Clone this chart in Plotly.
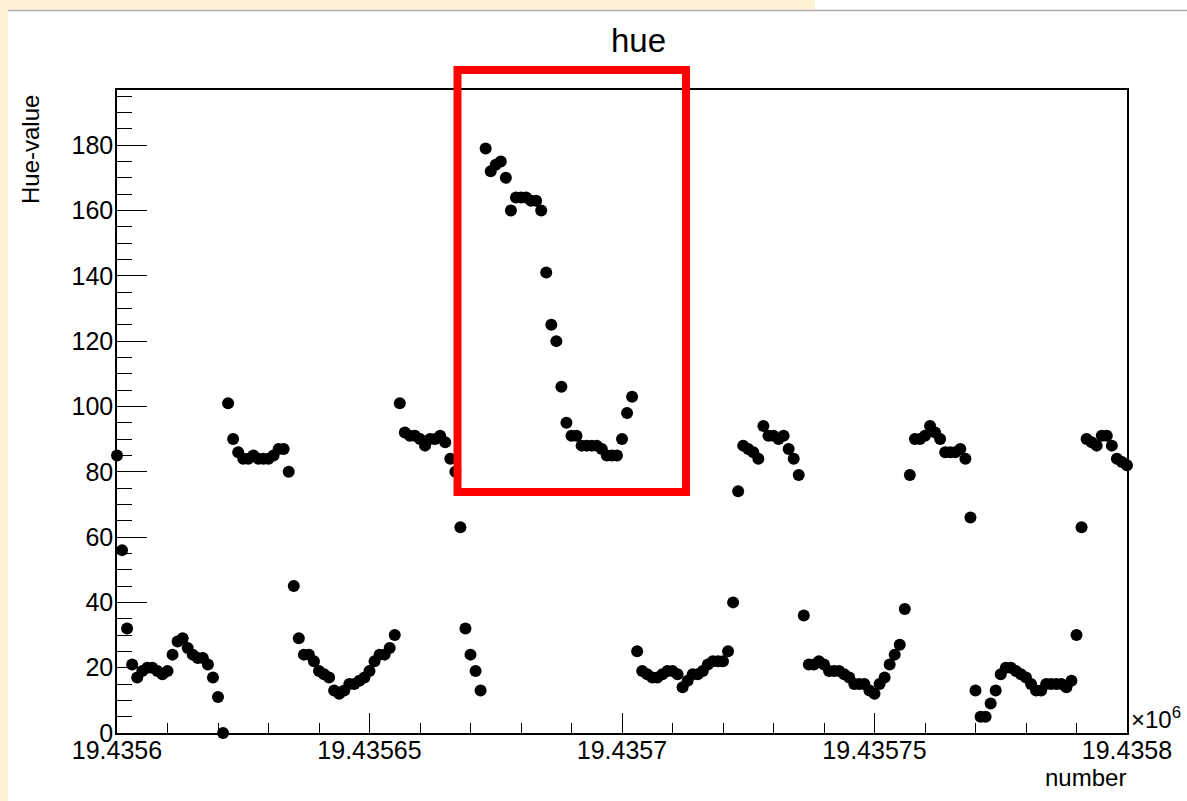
import numpy as np
import plotly.graph_objects as go

# hue value per event number, starting at 19435600, one point per number
first_number = 19435600
hue_value = [
    85, 56, 32, 21, 17, 19, 20, 20, 19, 18,
    19, 24, 28, 29, 26, 24, 23, 23, 21, 17,
    11, 0, 101, 90, 86, 84, 84, 85, 84, 84,
    84, 85, 87, 87, 80, 45, 29, 24, 24, 22,
    19, 18, 17, 13, 12, 13, 15, 15, 16, 17,
    19, 22, 24, 24, 26, 30, 101, 92, 91, 91,
    90, 88, 90, 90, 91, 89, 84, 80, 63, 32,
    24, 19, 13, 179, 172, 174, 175, 170, 160, 164,
    164, 164, 163, 163, 160, 141, 125, 120, 106, 95,
    91, 91, 88, 88, 88, 88, 87, 85, 85, 85,
    90, 98, 103, 25, 19, 18, 17, 17, 18, 19,
    19, 18, 14, 16, 18, 18, 19, 21, 22, 22,
    22, 25, 40, 74, 88, 87, 86, 84, 94, 91,
    91, 90, 91, 87, 84, 79, 36, 21, 21, 22,
    21, 19, 19, 19, 18, 17, 15, 15, 15, 13,
    12, 15, 17, 21, 24, 27, 38, 79, 90, 90,
    91, 94, 92, 90, 86, 86, 86, 87, 84, 66,
    13, 5, 5, 9, 13, 18, 20, 20, 19, 18,
    17, 15, 13, 13, 15, 15, 15, 15, 14, 16,
    30, 63, 90, 89, 88, 91, 91, 88, 84, 83,
    82,
]
number = np.arange(first_number, first_number + len(hue_value))

x_range = [19435600, 19435800]
y_range = [0, 196.9]
x_tick_vals = [19435600, 19435650, 19435700, 19435750, 19435800]
x_tick_text = ["19.4356", "19.43565", "19.4357", "19.43575", "19.4358"]

W, H = 1187, 801
L, R, T, B = 117, 60, 90, 68
PW, PH = W - L - R, H - T - B
FONT = "Liberation Sans, Arial, Helvetica, sans-serif"
CREAM = "#FEF2D5"


def px(x):
    return (x - L) / PW


def py(y):
    return (H - B - y) / PH


fig = go.Figure()
fig.add_trace(
    go.Scatter(
        x=number,
        y=hue_value,
        mode="markers",
        marker=dict(color="black", size=12, line=dict(width=0)),
        cliponaxis=False,
        showlegend=False,
    )
)

axis_common = dict(
    showgrid=False,
    zeroline=False,
    showline=True,
    mirror=True,
    linecolor="black",
    linewidth=1.5,
    ticks="inside",
    tickcolor="black",
    tickwidth=1,
    tickfont=dict(family=FONT, size=25, color="black"),
)

fig.update_xaxes(
    range=x_range,
    tickmode="array",
    tickvals=x_tick_vals,
    ticktext=x_tick_text,
    ticklen=20,
    ticklabelstandoff=-6,
    minor=dict(tickmode="linear", tick0=19435600, dtick=10, ticklen=10,
               ticks="inside", tickcolor="black", tickwidth=1),
    **axis_common,
)
fig.update_yaxes(
    range=y_range,
    tick0=0,
    dtick=20,
    ticklen=30,
    ticklabelstandoff=-3,
    minor=dict(tickmode="linear", tick0=0, dtick=5, ticklen=15,
               ticks="inside", tickcolor="black", tickwidth=1),
    **axis_common,
)

shapes = [
    # screenshot framing: cream strips and grey separator line
    dict(type="rect", xref="paper", yref="paper", layer="below",
         x0=px(-2), x1=px(8), y0=py(H + 2), y1=py(-2),
         fillcolor=CREAM, line=dict(width=0)),
    dict(type="rect", xref="paper", yref="paper", layer="below",
         x0=px(-2), x1=px(815), y0=py(9.5), y1=py(-2),
         fillcolor=CREAM, line=dict(width=0)),
    dict(type="line", xref="paper", yref="paper",
         x0=px(8), x1=px(W + 2), y0=py(10.5), y1=py(10.5),
         line=dict(color="#ABABAB", width=1.5)),
    # red highlight box
    dict(type="rect", xref="paper", yref="paper",
         x0=px(457.5), x1=px(686), y0=py(492), y1=py(70),
         line=dict(color="#FF0000", width=8), fillcolor="rgba(0,0,0,0)"),
]

annotations = [
    dict(text="hue", x=px(638), y=py(40), xref="paper", yref="paper",
         xanchor="center", yanchor="middle", showarrow=False,
         font=dict(family=FONT, size=33, color="black")),
    dict(text="Hue-value", x=px(30), y=py(150), xref="paper", yref="paper",
         xanchor="center", yanchor="middle", textangle=-90, showarrow=False,
         font=dict(family=FONT, size=24, color="black")),
    dict(text="number", x=px(1128), y=py(777), xref="paper", yref="paper",
         xanchor="right", yanchor="middle", showarrow=False,
         font=dict(family=FONT, size=24, color="black")),
    dict(text="×10<sup>6</sup>", x=px(1129), y=py(718), xref="paper", yref="paper",
         xanchor="left", yanchor="middle", showarrow=False,
         font=dict(family=FONT, size=24, color="black")),
]

fig.update_layout(
    width=W,
    height=H,
    margin=dict(l=L, r=R, t=T, b=B),
    paper_bgcolor="white",
    plot_bgcolor="white",
    shapes=shapes,
    annotations=annotations,
    showlegend=False,
)

# drop the default page margin so the figure sits at the window's corner
fig.write_html(
    "out.html",
    config={"displayModeBar": False},
    post_script="document.body.style.margin = '0';",
)
